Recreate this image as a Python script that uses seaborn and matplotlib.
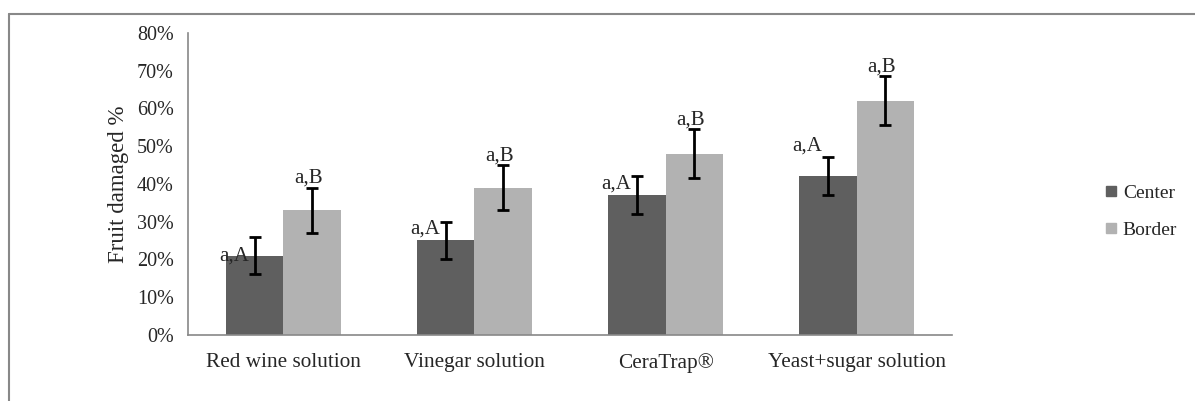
import matplotlib
matplotlib.use("Agg")
import matplotlib.pyplot as plt
import seaborn as sns
import pandas as pd
import numpy as np
from matplotlib.lines import Line2D

categories = ["Red wine solution", "Vinegar solution", "CeraTrap®", "Yeast+sugar solution"]
series = ["Center", "Border"]
center_vals = [21, 25, 37, 42]
center_err = [5, 5, 5, 5]
border_vals = [33, 39, 48, 62]
border_err = [6, 6, 6.5, 6.5]
center_labels = ["a,A", "a,A", "a,A", "a,A"]
border_labels = ["a,B", "a,B", "a,B", "a,B"]
yticks = [0, 10, 20, 30, 40, 50, 60, 70, 80]

df = pd.DataFrame({
    "category": categories * 2,
    "series": ["Center"] * 4 + ["Border"] * 4,
    "value": center_vals + border_vals,
})

sns.set_style("white")
plt.rcParams["font.family"] = ["Liberation Serif", "DejaVu Serif"]

fig = plt.figure(figsize=(11.95, 4.01), dpi=100)
ax = fig.add_axes([0.157, 0.165, 0.64, 0.753])

colors = {"Center": "#5f5f5f", "Border": "#b2b2b2"}
sns.barplot(data=df, x="category", y="value", hue="series", order=categories,
            hue_order=series, palette=colors, width=0.6, gap=0, errorbar=None,
            saturation=1, ax=ax, legend=False, linewidth=0)

off = 0.15
x = np.arange(len(categories))
ax.errorbar(x - off, center_vals, yerr=center_err, fmt="none", ecolor="black",
            elinewidth=2, capsize=4, capthick=2)
ax.errorbar(x + off, border_vals, yerr=border_err, fmt="none", ecolor="black",
            elinewidth=2, capsize=4, capthick=2)

# annotations
cy = [center_vals[0], center_vals[1] + center_err[1] - 2, center_vals[2] + center_err[2] - 2,
      center_vals[3] + center_err[3] + 3]
for i in range(len(categories)):
    ax.text(x[i] - off - 0.03, cy[i], center_labels[i], ha="right", va="center", fontsize=15)
    ax.text(x[i] + off - 0.02, border_vals[i] + border_err[i] + 2.5, border_labels[i],
            ha="center", va="center", fontsize=15)

ax.set_ylim(0, 80)
ax.set_xlim(-0.5, 3.5)
ax.set_yticks(yticks)
ax.set_yticklabels([f"{t}%" for t in yticks], fontsize=14.5)
ax.set_xticks(x)
ax.set_xticklabels(categories, fontsize=15.3)
ax.set_xticks(np.arange(-0.5, 4.0, 1.0), minor=True)
ax.tick_params(axis="x", which="major", length=0, pad=13)
ax.tick_params(axis="x", which="minor", length=5, color="#888888", width=1, direction="out")
ax.tick_params(axis="y", length=5, color="#888888", width=1, direction="out", pad=5)
ax.set_xlabel("")
ax.set_ylabel("Fruit damaged %", fontsize=16.5, labelpad=6)
for s in ["top", "right"]:
    ax.spines[s].set_visible(False)
for s in ["left", "bottom"]:
    ax.spines[s].set_color("#888888")
    ax.spines[s].set_linewidth(1.2)

handles = [Line2D([], [], marker="s", linestyle="none", markersize=7,
                  markerfacecolor=colors[s], markeredgecolor=colors[s]) for s in series]
fig.legend(handles, series, loc="center left", bbox_to_anchor=(0.907, 0.473),
           frameon=False, fontsize=14, handletextpad=0.1, labelspacing=1.0,
           handlelength=1.0)

# outer frame (top and left)
fig.add_artist(Line2D([9 / 1195, 9 / 1195], [0, 1 - 14 / 401], transform=fig.transFigure,
                      color="#888888", linewidth=1.5))
fig.add_artist(Line2D([9 / 1195, 1], [1 - 14 / 401, 1 - 14 / 401], transform=fig.transFigure,
                      color="#888888", linewidth=1.5))

fig.savefig("out.png", dpi=100, facecolor="white")
